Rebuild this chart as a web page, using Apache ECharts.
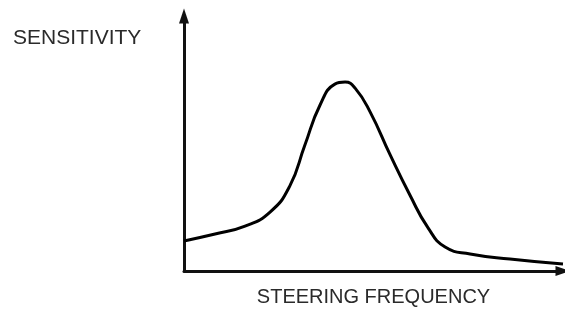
<!DOCTYPE html>
<html>
<head>
<meta charset="utf-8">
<script src="https://cdn.jsdelivr.net/npm/echarts@6/dist/echarts.min.js"></script>
<style>
  html, body { margin: 0; padding: 0; background: #fff; }
  #chart { width: 565px; height: 309px; }
</style>
</head>
<body>
<div id="chart"></div>
<script>
// 曲线数据（任意单位，读自原图）
const frequency = [0, 8.2, 16.1, 22.7, 27.9, 31.9, 35.9, 39.8, 42.5, 45.1, 49.1, 54.4, 59.6, 64.4, 68.9, 75.5, 86.0, 100];
const sensitivity = [11.8, 14.5, 17.6, 23.1, 33.3, 49.4, 65.1, 73.3, 74.1, 71.8, 62.4, 45.5, 29.8, 16.9, 9.4, 6.7, 4.7, 2.7];
const xName = 'STEERING FREQUENCY';
const yName = 'SENSITIVITY';

function init() {
    const chart = echarts.init(document.getElementById('chart'));
    const points = frequency.map(function (f, i) { return [f, sensitivity[i]]; });
    const axisLine = {
        show: true,
        symbol: ['none', 'triangle'],
        symbolSize: [10, 15],
        lineStyle: { color: '#111', width: 3 }
    };
    chart.setOption({
        animation: false,
        grid: { left: 184, right: 2, top: 16, bottom: 38, outerBoundsMode: 'none' },
        xAxis: {
            type: 'value', min: 0, max: 100,
            name: xName, nameLocation: 'middle', nameGap: 16,
            nameTextStyle: { fontFamily: 'Liberation Sans', fontSize: 20, color: '#2a2a2a' },
            axisLine: axisLine,
            axisTick: { show: false }, axisLabel: { show: false }, splitLine: { show: false }
        },
        yAxis: {
            type: 'value', min: 0, max: 100,
            axisLine: axisLine,
            axisTick: { show: false }, axisLabel: { show: false }, splitLine: { show: false }
        },
        graphic: [{
            type: 'text', left: 13, top: 28,
            style: { text: yName, font: '21px "Liberation Sans"', fill: '#2a2a2a' }
        }],
        series: [{
            type: 'line',
            data: points,
            smooth: 0.5,
            showSymbol: false,
            lineStyle: { color: '#000', width: 3 }
        }]
    });
}

window.addEventListener('DOMContentLoaded', init);
</script>
</body>
</html>
